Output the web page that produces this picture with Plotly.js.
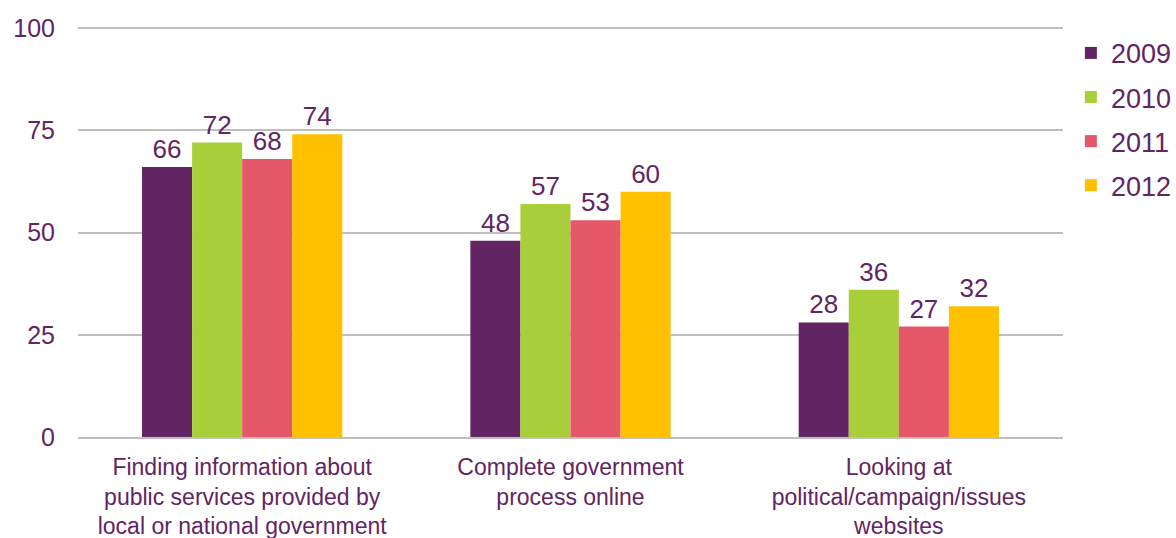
<!DOCTYPE html>
<html><head><meta charset="utf-8">
<script src="https://cdn.plot.ly/plotly-3.0.1.min.js"></script>
<style>html,body{margin:0;padding:0;background:#fff}#chart{width:1176px;height:538px}</style>
</head><body><div id="chart"></div>
<script>
const categories = [
  "Finding information about<br>public services provided by<br>local or national government",
  "Complete government<br>process online",
  "Looking at<br>political/campaign/issues<br>websites"
];
const years = ["2009", "2010", "2011", "2012"];
const values2009 = [66, 48, 28];
const values2010 = [72, 57, 36];
const values2011 = [68, 53, 27];
const values2012 = [74, 60, 32];
const yTicks = [0, 25, 50, 75, 100];

const seriesValues = [values2009, values2010, values2011, values2012];
const colors = ["#622463", "#A8CE3A", "#E5586A", "#FFC000"];
const textColor = "#622463";
const font = "Liberation Sans, Arial, sans-serif";

const traces = years.map((y, i) => ({
  type: "bar",
  name: y,
  x: categories,
  y: seriesValues[i],
  text: seriesValues[i].map(String),
  textposition: "outside",
  textfont: {family: font, size: 26, color: textColor},
  marker: {color: colors[i], line: {width: 0}},
  legendgroup: y,
  cliponaxis: false,
  hoverinfo: "none"
}));

const layout = {
  width: 1176, height: 538,
  margin: {l: 78, r: 113, t: 26, b: 101, autoexpand: false},
  paper_bgcolor: "#fff", plot_bgcolor: "#fff",
  barmode: "group", bargap: 0.39, bargroupgap: 0,
  font: {family: font, color: textColor},
  showlegend: true,
  legend: {
    x: 1.008, xanchor: "left", y: 0.993, yanchor: "top",
    font: {family: font, size: 27, color: textColor},
    traceorder: "grouped", tracegroupgap: 6,
    itemwidth: 30
  },
  xaxis: {
    type: "category",
    tickfont: {family: font, size: 23, color: textColor},
    showline: true, linecolor: "#bfbfbf", linewidth: 2,
    ticks: "", showgrid: false,
    ticklabelstandoff: 8
  },
  yaxis: {
    range: [0, 100.5], tickvals: yTicks, ticktext: yTicks.map(String),
    tickfont: {family: font, size: 25, color: textColor},
    showgrid: true, gridcolor: "#bfbfbf", gridwidth: 2,
    zeroline: false, showline: false, ticks: "",
    ticklabelstandoff: 22
  }
};

Plotly.newPlot("chart", traces, layout, {displayModeBar: false, staticPlot: true});
</script></body></html>
